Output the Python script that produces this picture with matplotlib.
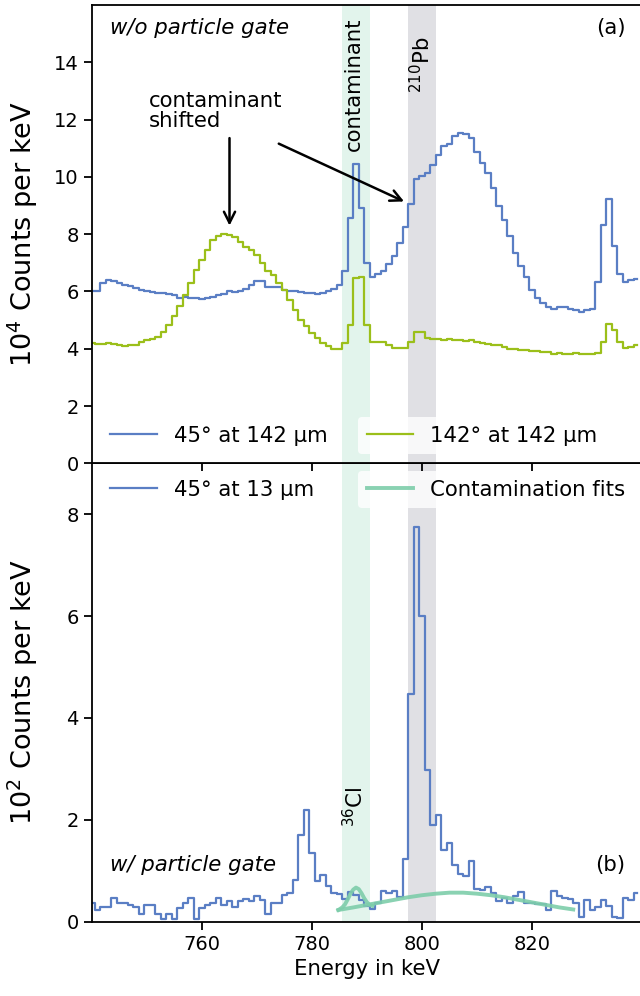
import numpy as np
import matplotlib
matplotlib.use("Agg")
import matplotlib.pyplot as plt

# bin centres in keV (1 keV bins)
energy = np.arange(740, 840)

# top panel, without particle gate (10^4 counts per keV)
counts_45_142 = [
    6.03, 6.03, 6.29, 6.40, 6.36, 6.29, 6.23, 6.20, 6.12, 6.06,
    6.00, 5.97, 5.94, 5.94, 5.92, 5.86, 5.77, 5.80, 5.78, 5.78,
    5.74, 5.77, 5.80, 5.86, 5.91, 6.02, 5.97, 6.00, 6.08, 6.23,
    6.38, 6.36, 6.17, 6.14, 6.14, 6.06, 6.03, 6.00, 5.97, 5.95,
    5.95, 5.92, 5.95, 6.03, 6.10, 6.22, 6.72, 8.57, 10.44, 8.92,
    6.99, 6.52, 6.62, 6.70, 6.97, 7.25, 7.69, 8.25, 9.05, 9.94,
    10.02, 10.14, 10.43, 10.78, 11.07, 11.15, 11.44, 11.54, 11.50, 11.36,
    10.87, 10.50, 10.13, 9.60, 8.99, 8.50, 7.92, 7.34, 6.89, 6.52,
    6.06, 5.77, 5.59, 5.44, 5.37, 5.46, 5.46, 5.40, 5.34, 5.28,
    5.34, 5.38, 6.33, 8.33, 9.24, 7.59, 6.60, 6.34, 6.40, 6.43,
]
counts_142_142 = [
    4.20, 4.18, 4.16, 4.20, 4.18, 4.12, 4.11, 4.12, 4.13, 4.25,
    4.29, 4.34, 4.41, 4.60, 4.84, 5.13, 5.48, 5.88, 6.29, 6.76,
    7.11, 7.46, 7.78, 7.92, 8.01, 7.96, 7.90, 7.71, 7.54, 7.43,
    7.28, 7.01, 6.70, 6.58, 6.29, 6.06, 5.71, 5.36, 5.01, 4.78,
    4.55, 4.37, 4.20, 4.08, 3.99, 3.99, 4.20, 4.84, 6.47, 6.52,
    4.84, 4.25, 4.24, 4.22, 4.14, 4.03, 4.02, 4.04, 4.25, 4.57,
    4.60, 4.38, 4.33, 4.33, 4.30, 4.33, 4.31, 4.31, 4.28, 4.31,
    4.25, 4.20, 4.18, 4.13, 4.12, 4.06, 3.99, 4.00, 3.97, 3.94,
    3.92, 3.91, 3.87, 3.87, 3.83, 3.84, 3.83, 3.83, 3.84, 3.83,
    3.83, 3.83, 3.84, 4.25, 4.86, 4.67, 4.25, 4.04, 4.06, 4.13,
]

# bottom panel, with particle gate (10^2 counts per keV)
counts_45_13 = [
    0.36, 0.23, 0.29, 0.29, 0.46, 0.36, 0.36, 0.33, 0.29, 0.16,
    0.33, 0.33, 0.16, 0.05, 0.16, 0.05, 0.26, 0.36, 0.46, 0.05,
    0.26, 0.33, 0.36, 0.46, 0.33, 0.41, 0.28, 0.41, 0.44, 0.41,
    0.50, 0.42, 0.16, 0.36, 0.36, 0.53, 0.56, 0.82, 1.70, 2.19,
    1.34, 0.80, 0.92, 0.70, 0.56, 0.55, 0.45, 0.58, 0.52, 0.42,
    0.30, 0.24, 0.36, 0.60, 0.56, 0.60, 0.48, 1.24, 4.48, 7.75,
    6.01, 2.97, 1.90, 2.09, 1.41, 1.54, 1.12, 0.93, 0.90, 1.19,
    0.65, 0.62, 0.69, 0.57, 0.40, 0.46, 0.36, 0.50, 0.59, 0.36,
    0.36, 0.35, 0.35, 0.23, 0.61, 0.50, 0.46, 0.45, 0.36, 0.09,
    0.42, 0.23, 0.29, 0.42, 0.30, 0.09, 0.08, 0.46, 0.42, 0.56,
]

# contamination fits
fit_narrow_e = [784.8, 785.5, 786.0, 786.5, 787.0, 787.5, 788.0, 788.5, 789.0, 789.5, 790.0, 790.5, 791.0]
fit_narrow_v = [0.23, 0.28, 0.34, 0.44, 0.55, 0.63, 0.67, 0.64, 0.56, 0.46, 0.38, 0.33, 0.31]
fit_wide_e = [784.8, 787.5, 790.0, 792.5, 795.0, 797.5, 800.0, 802.5, 805.0, 807.5,
              810.0, 812.5, 815.0, 817.5, 820.0, 822.5, 825.0, 827.5]
fit_wide_v = [0.23, 0.28, 0.33, 0.38, 0.43, 0.48, 0.52, 0.55, 0.57, 0.57,
              0.55, 0.52, 0.48, 0.43, 0.38, 0.33, 0.28, 0.24]

# marked regions
contaminant_band = (785.5, 790.5)
pb210_band = (797.5, 802.5)

blue = "#5a7ec4"
green = "#9bbf1a"
mint = "#7dcdaa"
grey = "#c8c8ce"

fs = 15.3
plt.rcParams["font.size"] = fs
plt.rcParams["axes.linewidth"] = 1.3

fig = plt.figure(figsize=(6.4, 9.96), dpi=100)
ax1 = fig.add_axes([92 / 640, 1 - 463.3 / 996, 550 / 640, 458.3 / 996])
ax2 = fig.add_axes([92 / 640, 1 - 921.7 / 996, 550 / 640, 458.4 / 996], sharex=ax1)
ax1.set_zorder(2)  # its x ticks hang down over the lower panel

for ax in (ax1, ax2):
    ax.axvspan(*contaminant_band, color=mint, alpha=0.22, lw=0, zorder=0)
    ax.axvspan(*pb210_band, color=grey, alpha=0.55, lw=0, zorder=0)
    ax.tick_params(length=6, width=1.3, labelsize=14)

leg_kw = dict(frameon=True, framealpha=0.8, edgecolor="none", fontsize=fs,
              handlelength=2.2, borderaxespad=0)


def two_legends(ax, loc, y):
    # one legend per entry, so the right one starts at a fixed place
    handles, labels = ax.get_legend_handles_labels()
    left = ax.legend(handles[:1], labels[:1], loc=loc, bbox_to_anchor=(0.017, y), **leg_kw)
    ax.add_artist(left)
    ax.legend(handles[1:], labels[1:], loc=loc, bbox_to_anchor=(0.484, y), **leg_kw)


# --- top panel ---
ax1.step(energy, counts_45_142, where="mid", color=blue, lw=1.6, label="45° at 142 µm")
ax1.step(energy, counts_142_142, where="mid", color=green, lw=1.6, label="142° at 142 µm")
ax1.set_xlim(740, 840)
ax1.set_ylim(0, 16)
ax1.set_yticks([0, 2, 4, 6, 8, 10, 12, 14])
ax1.set_ylabel("$10^4$ Counts per keV", fontsize=19.5)
ax1.tick_params(axis="x", labelbottom=False)
two_legends(ax1, "lower left", 0.02)

ax1.text(0.033, 0.95, "w/o particle gate", transform=ax1.transAxes,
         style="italic", ha="left", va="center")
ax1.text(0.97, 0.95, "(a)", transform=ax1.transAxes, ha="right", va="center")
ax1.text(787.7, 15.55, "contaminant", rotation=90, ha="center", va="top")
ax1.text(800.0, 13.9, "$^{210}$Pb", rotation=90, ha="center", va="center")

ax1.text(750.4, 12.3, "contaminant\nshifted", ha="left", va="center", linespacing=1.0)
ax1.annotate("", xy=(765, 8.2), xytext=(765, 11.45),
             arrowprops=dict(arrowstyle="->", color="black", lw=1.8, mutation_scale=20))
ax1.annotate("", xy=(797.2, 9.1), xytext=(773.5, 11.2),
             arrowprops=dict(arrowstyle="->", color="black", lw=1.8, mutation_scale=20))

# --- bottom panel ---
ax2.step(energy, counts_45_13, where="mid", color=blue, lw=1.6, label="45° at 13 µm")
ax2.plot(fit_narrow_e, fit_narrow_v, color=mint, lw=2.8, alpha=0.9, label="Contamination fits")
ax2.plot(fit_wide_e, fit_wide_v, color=mint, lw=2.8, alpha=0.9)
ax2.set_ylim(0, 9)
ax2.set_yticks([0, 2, 4, 6, 8])
ax2.set_xticks([760, 780, 800, 820])
ax2.set_ylabel("$10^2$ Counts per keV", fontsize=19.5)
ax2.set_xlabel("Energy in keV")
two_legends(ax2, "upper left", 0.983)

ax2.text(0.033, 0.124, "w/ particle gate", transform=ax2.transAxes,
         style="italic", ha="left", va="center")
ax2.text(0.97, 0.124, "(b)", transform=ax2.transAxes, ha="right", va="center")
ax2.text(787.7, 2.25, "$^{36}$Cl", rotation=90, ha="center", va="center")

ax1.yaxis.set_label_coords(-0.094, 0.5)
ax2.yaxis.set_label_coords(-0.094, 0.5)

fig.savefig("out.png", dpi=100)
